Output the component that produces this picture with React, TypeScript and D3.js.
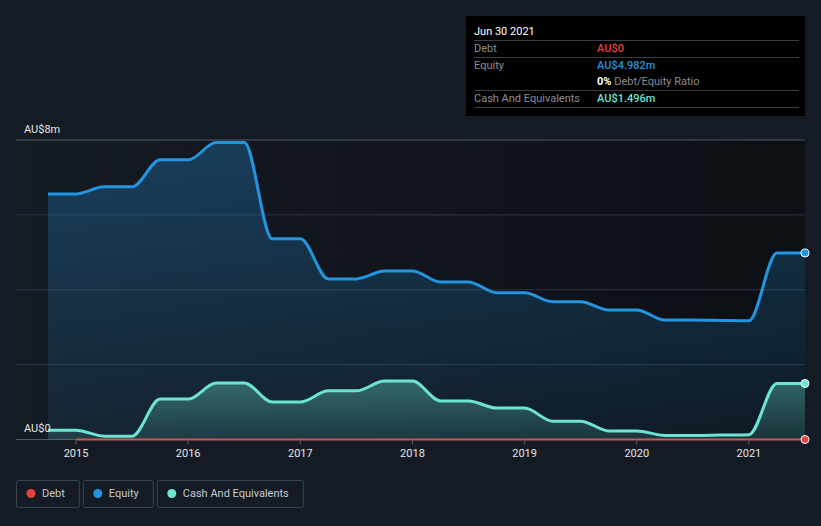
import { useEffect, useRef } from "react";
import * as d3 from "d3";

// quarter positions as decimal years
const dates = [
  2014.75, 2015.0, 2015.25, 2015.5, 2015.75, 2016.0, 2016.25, 2016.5, 2016.75, 2017.0,
  2017.25, 2017.5, 2017.75, 2018.0, 2018.25, 2018.5, 2018.75, 2019.0, 2019.25, 2019.5,
  2019.75, 2020.0, 2020.25, 2020.5, 2020.75, 2021.0, 2021.25, 2021.5,
];
const equity = [
  6.56, 6.56, 6.75, 6.75, 7.47, 7.47, 7.93, 7.93, 5.36, 5.36,
  4.29, 4.29, 4.5, 4.5, 4.21, 4.21, 3.92, 3.92, 3.68, 3.68,
  3.46, 3.46, 3.19, 3.19, 3.18, 3.17, 4.982, 4.982,
];
const cash = [
  0.25, 0.25, 0.09, 0.09, 1.08, 1.08, 1.51, 1.51, 1.0, 1.0,
  1.3, 1.3, 1.56, 1.56, 1.03, 1.03, 0.84, 0.84, 0.49, 0.49,
  0.23, 0.23, 0.11, 0.11, 0.12, 0.13, 1.496, 1.496,
];
const debtDates = [2015.0, 2021.5];
const debt = [0, 0];
const yearTicks = [2015, 2016, 2017, 2018, 2019, 2020, 2021];

const legendItems = [
  { label: "Debt", color: "#e64141" },
  { label: "Equity", color: "#2394df" },
  { label: "Cash And Equivalents", color: "#6ce5d0" },
];

const App = () => {
  const ref = useRef<SVGSVGElement>(null);

  useEffect(() => {
    const svg = d3.select(ref.current);
    svg.selectAll("*").remove();

    const W = 821, H = 526;
    const left = 16, right = 805, top = 140, bottom = 439.5;
    const font = "Roboto, 'Noto Sans', sans-serif";

    var x = d3.scaleLinear().domain([2014.75, 2021.5]).range([48, right]);
    var y = d3.scaleLinear().domain([0, 8]).range([bottom, top]);

    svg.append("rect").attr("width", W).attr("height", H).attr("fill", "#151b24");

    const defs = svg.append("defs");
    const bg = defs.append("linearGradient").attr("id", "bgGrad").attr("x1", 0).attr("x2", 1).attr("y1", 0).attr("y2", 0);
    bg.append("stop").attr("offset", "0%").attr("stop-color", "#151b24");
    bg.append("stop").attr("offset", "100%").attr("stop-color", "#0c0f14");
    const eqG = defs.append("linearGradient").attr("id", "eqGrad").attr("x1", 0).attr("x2", 0).attr("y1", 0).attr("y2", 1);
    eqG.append("stop").attr("offset", "0%").attr("stop-color", "#2394df").attr("stop-opacity", 0.3);
    eqG.append("stop").attr("offset", "100%").attr("stop-color", "#2394df").attr("stop-opacity", 0.08);
    const cG = defs.append("linearGradient").attr("id", "cashGrad").attr("x1", 0).attr("x2", 0).attr("y1", 0).attr("y2", 1);
    cG.append("stop").attr("offset", "0%").attr("stop-color", "#6ce5d0").attr("stop-opacity", 0.35);
    cG.append("stop").attr("offset", "100%").attr("stop-color", "#6ce5d0").attr("stop-opacity", 0.12);

    svg.append("rect")
      .attr("x", left).attr("y", top)
      .attr("width", right - left).attr("height", bottom - top)
      .attr("fill", "url(#bgGrad)");

    // grid lines
    svg.append("g").selectAll("line")
      .data([0, 2, 4, 6, 8])
      .join("line")
      .attr("x1", left).attr("x2", right)
      .attr("y1", (d) => y(d)).attr("y2", (d) => y(d))
      .attr("stroke", (d) => (d === 8 || d === 0 ? "#555a62" : "#2c3440"))
      .attr("stroke-width", 1);

    const eqData = dates.map((d, i) => ({ t: d, v: equity[i] }));
    const cashData = dates.map((d, i) => ({ t: d, v: cash[i] }));
    const debtData = debtDates.map((d, i) => ({ t: d, v: debt[i] }));

    const area = d3.area<any>().x((d) => x(d.t)).y0(y(0)).y1((d) => y(d.v)).curve(d3.curveMonotoneX);
    const line = d3.line<any>().x((d) => x(d.t)).y((d) => y(d.v)).curve(d3.curveMonotoneX);

    svg.append("path").datum(eqData).attr("d", area).attr("fill", "url(#eqGrad)");
    svg.append("path").datum(cashData).attr("d", area).attr("fill", "url(#cashGrad)");

    svg.append("path").datum(eqData).attr("d", line)
      .attr("fill", "none").attr("stroke", "#2394df").attr("stroke-width", 3);
    svg.append("path").datum(cashData).attr("d", line)
      .attr("fill", "none").attr("stroke", "#6ce5d0").attr("stroke-width", 3);
    svg.append("path").datum(debtData).attr("d", line)
      .attr("fill", "none").attr("stroke", "#c55a5e").attr("stroke-width", 2);

    // end markers
    const last = dates.length - 1;
    [
      { v: equity[last], c: "#2394df" },
      { v: cash[last], c: "#6ce5d0" },
      { v: debt[debt.length - 1], c: "#e64141" },
    ].forEach((m) => {
      svg.append("circle")
        .attr("cx", x(2021.5)).attr("cy", y(m.v)).attr("r", 4)
        .attr("fill", m.c).attr("stroke", "#ffffff").attr("stroke-width", 1);
    });

    // x axis
    const xa = svg.append("g");
    xa.selectAll("line").data(yearTicks).join("line")
      .attr("x1", (d) => x(d)).attr("x2", (d) => x(d))
      .attr("y1", bottom).attr("y2", bottom + 5)
      .attr("stroke", "#555a62");
    xa.selectAll("text").data(yearTicks).join("text")
      .attr("x", (d) => x(d)).attr("y", 457)
      .attr("text-anchor", "middle")
      .attr("fill", "#e6e6e6").attr("font-family", font).attr("font-size", 11)
      .text((d) => String(d));

    // y labels
    svg.append("text").attr("x", 24).attr("y", 133)
      .attr("fill", "#e6e6e6").attr("font-family", font).attr("font-size", 11).text("AU$8m");
    svg.append("text").attr("x", 24).attr("y", 432)
      .attr("fill", "#e6e6e6").attr("font-family", font).attr("font-size", 11).text("AU$0");

    // tooltip
    const tt = svg.append("g");
    tt.append("rect").attr("x", 466).attr("y", 16).attr("width", 339).attr("height", 100).attr("fill", "#000");
    tt.append("text").attr("x", 474).attr("y", 35).attr("fill", "#fff")
      .attr("font-family", font).attr("font-size", 11).text("Jun 30 2021");
    [40.5, 57.5, 90.5, 107.5].forEach((ly) => {
      tt.append("line").attr("x1", 474).attr("x2", 799).attr("y1", ly).attr("y2", ly)
        .attr("stroke", "#3a3d42").attr("stroke-width", 1);
    });
    const rows = [
      { y: 52, label: "Debt", value: "AU$0", color: "#e64141" },
      { y: 69, label: "Equity", value: "AU$4.982m", color: "#2394df" },
      { y: 102, label: "Cash And Equivalents", value: "AU$1.496m", color: "#6ce5d0" },
    ];
    rows.forEach((r) => {
      tt.append("text").attr("x", 474).attr("y", r.y).attr("fill", "#8a8d92")
        .attr("font-family", font).attr("font-size", 11).text(r.label);
      tt.append("text").attr("x", 597).attr("y", r.y).attr("fill", r.color)
        .attr("font-family", font).attr("font-size", 11).attr("font-weight", 500).text(r.value);
    });
    const ratio = tt.append("text").attr("x", 597).attr("y", 85)
      .attr("font-family", font).attr("font-size", 11);
    ratio.append("tspan").attr("fill", "#fff").attr("font-weight", 700).text("0%");
    ratio.append("tspan").attr("fill", "#8a8d92").text(" Debt/Equity Ratio");

    // legend
    const lg = svg.append("g");
    let lx = 16;
    legendItems.forEach((item) => {
      const g = lg.append("g");
      const txt = g.append("text").attr("x", lx + 26).attr("y", 497)
        .attr("fill", "#c8cacd").attr("font-family", font).attr("font-size", 11).text(item.label);
      const tw = (txt.node() as SVGTextElement).getComputedTextLength();
      const bw = tw + 40;
      g.insert("rect", "text")
        .attr("x", lx + 0.5).attr("y", 480.5).attr("width", bw).attr("height", 27)
        .attr("rx", 2).attr("fill", "none").attr("stroke", "#3d434c");
      g.append("circle").attr("cx", lx + 15).attr("cy", 493.5).attr("r", 4.5).attr("fill", item.color);
      lx += bw + 4;
    });
  }, []);

  return <svg ref={ref} width={821} height={526} style={{ display: "block", position: "absolute", left: 0, top: 0 }} />;
};

export default App;
